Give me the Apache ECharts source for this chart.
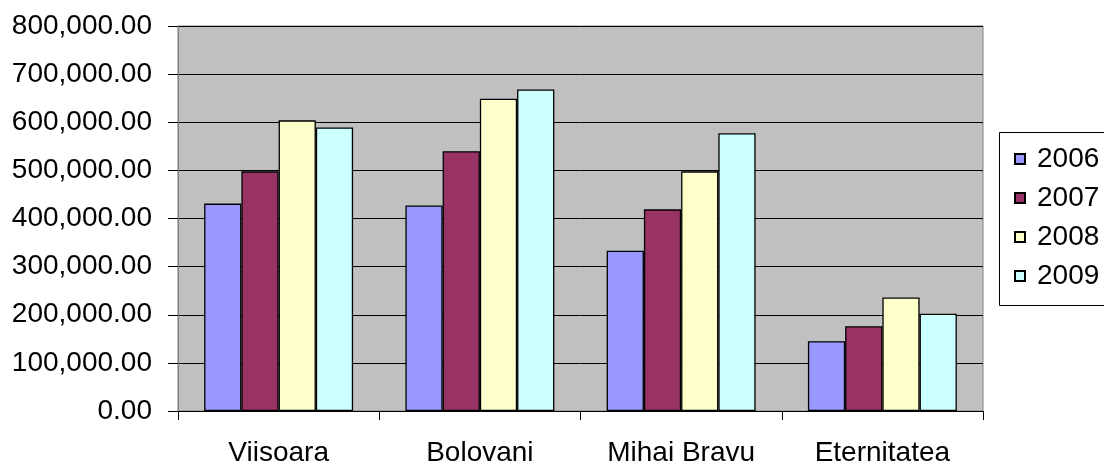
<!DOCTYPE html>
<html>
<head>
<meta charset="utf-8">
<script src="https://cdn.jsdelivr.net/npm/echarts@6/dist/echarts.min.js"></script>
<style>
  html, body { margin: 0; padding: 0; background: #ffffff; }
  #chart { width: 1104px; height: 467px; }
</style>
</head>
<body>
<div id="chart"></div>
<script>
// Cemeteries (categories) and yearly amounts per series
const categories = ['Viisoara', 'Bolovani', 'Mihai Bravu', 'Eternitatea'];
const years = ['2006', '2007', '2008', '2009'];
const values2006 = [431000, 427000, 333000, 145000];
const values2007 = [498000, 540000, 419000, 176000];
const values2008 = [604000, 649000, 498000, 236000];
const values2009 = [589000, 668000, 577000, 202000];
const yTicks = { min: 0, max: 800000, interval: 100000 };

const seriesValues = [values2006, values2007, values2008, values2009];
const seriesColors = ['#9999FF', '#993366', '#FFFFCC', '#CCFFFF'];
const FONT = '"Liberation Sans", Arial, sans-serif';
const FS = 28;

function fmtMoney(v) {
  const parts = Number(v).toFixed(2).split('.');
  parts[0] = parts[0].replace(/\B(?=(\d{3})+(?!\d))/g, ',');
  return parts.join('.');
}

const chart = echarts.init(document.getElementById('chart'), null, { renderer: 'canvas' });

chart.setOption({
  animation: false,
  backgroundColor: '#ffffff',
  textStyle: { fontFamily: FONT },
  grid: {
    left: 178, right: 121, top: 26, bottom: 55,
    show: true, backgroundColor: '#C0C0C0', borderColor: '#808080', borderWidth: 1
  },
  graphic: [{
    type: 'rect',
    shape: { x: 999.5, y: 132.5, width: 130, height: 173 },
    style: { fill: '#ffffff', stroke: '#000000', lineWidth: 1 },
    z: 0
  }],
  legend: {
    orient: 'vertical',
    left: 1009, top: 140,
    itemWidth: 10, itemHeight: 10,
    itemGap: 11,
    icon: 'rect',
    data: years,
    textStyle: { fontFamily: FONT, fontSize: FS, color: '#000', lineHeight: 28, padding: [0, 0, 0, 7] }
  },
  xAxis: {
    type: 'category',
    data: categories,
    axisLine: { lineStyle: { color: '#000', width: 1 } },
    axisTick: { show: true, length: 9, lineStyle: { color: '#000' } },
    axisLabel: { fontFamily: FONT, fontSize: FS, color: '#000', margin: 28 }
  },
  yAxis: {
    type: 'value',
    min: yTicks.min, max: yTicks.max, interval: yTicks.interval,
    axisLine: { show: true, lineStyle: { color: '#808080', width: 1 } },
    axisTick: { show: true, length: 10, lineStyle: { color: '#000' } },
    splitLine: { show: true, lineStyle: { color: '#000', width: 1 } },
    axisLabel: { fontFamily: FONT, fontSize: FS, color: '#000', margin: 26, formatter: fmtMoney }
  },
  series: years.map((y, i) => ({
    name: y,
    type: 'bar',
    data: seriesValues[i],
    barGap: '0%',
    barCategoryGap: '26%',
    itemStyle: { color: seriesColors[i], borderColor: '#000', borderWidth: 1.3 }
  }))
});
</script>
</body>
</html>
